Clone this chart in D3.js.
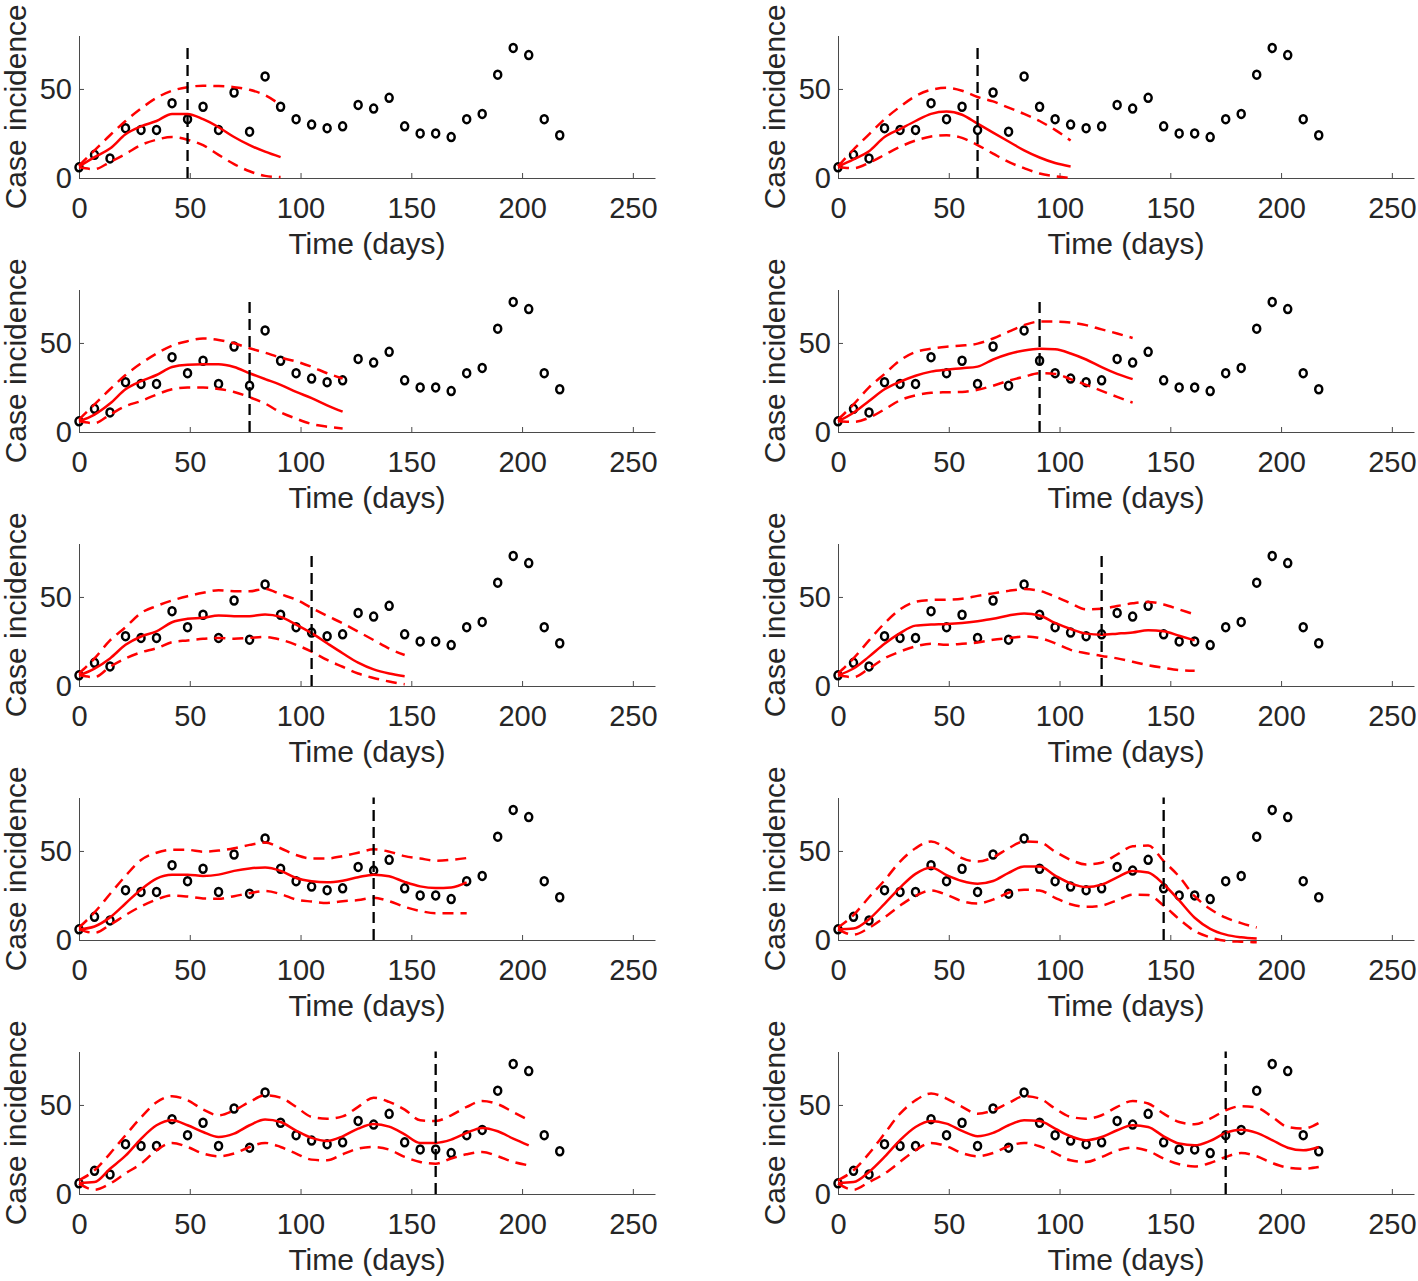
<!DOCTYPE html>
<html><head><meta charset="utf-8">
<script src="https://cdn.jsdelivr.net/npm/d3@7"></script>
<style>body{margin:0;background:#fff} svg{display:block}</style>
</head><body><svg id="c" width="1418" height="1281"></svg>
<script>
// weekly observation days and case incidence
const days = d3.range(0, 218, 7);
const cases = [6,13,11,28,27,27,42,33,40,27,48,26,57,40,33,30,28,29,41,39,45,29,25,25,23,33,36,58,73,69,33,24];
// cutoff (vertical dashed line) of each panel
const cutoffs = [49,63,77,91,105,119,133,147,161,175];
const vlineTop = [75,75,75,75,75,75,80,80,80,80];
const xTicks = [0,50,100,150,200,250];
const yTicks = [0,50];

// fitted mean and bounds, weekly from day 0
const fitMean1 = [6.4,11.7,16.5,24.5,29,32,36,36,33,28.5,23,18.4,14.8,11.7];
const fitUpper1 = [7,15.5,24,32,39,45,49,51,51.8,51.6,51,49.5,46.5,41];
const fitLower1 = [6,5,9,13.5,18.5,21.5,23,21.5,18.4,13,7.8,3.8,1.2,0.5];

const fitMean2 = [6.5,10.5,15,23,27.5,32,36,37.3,35.5,30.5,25.5,20.5,15.5,11.5,8.4,6.5];
const fitUpper2 = [6.5,16,24.5,33,40,46,49.5,50.6,49,45.5,43,39.5,36,32,27,21];
const fitLower2 = [6,5.5,8.5,13,17.5,21,23.3,24,22.5,18.5,13.7,9,5.5,2.5,1,0];

const fitMean3 = [6,9.8,16,24,28.5,32,36.5,37.8,38,38,36.5,33,29.7,26.5,22.5,19,15,11.4];
const fitUpper3 = [7,15.5,24,32,38.5,44,48.5,51,52.5,51.7,49.8,47,44.5,41.7,39.6,36.6,33,30];
const fitLower3 = [6,5,9.8,14.5,17.4,21,24,25,25,24.2,22.5,19.5,16,11,7.5,4.5,3,2];

const fitMean4 = [6,10.8,17.4,24,28.2,31.6,33.9,35,35.8,36.7,40.7,43.8,45.8,46.8,46.4,44.1,40.7,36.4,32.6,29.7];
const fitUpper4 = [7,15.5,25,32.6,40.2,44.9,46.8,47.9,48.5,49.6,52.5,56.3,60,62,62,61.4,60,57.6,55.3,52.8];
const fitLower4 = [6,5.7,8,12.7,17.8,20.6,22,22.3,22.5,23.7,26,28.8,31,33,32.6,29.7,26.5,23.1,19.7,16.5];

const fitMean5 = [6,9.8,15.5,23.1,27.8,30.7,35.8,37.7,38.3,39.6,39.2,39.2,40.2,38.8,34.5,29.7,24,18.4,13.1,9.3,7,5.5];
const fitUpper5 = [7,15.5,25.6,33,41,44.9,48,50.4,52.3,53.8,53.2,53.2,54.5,51.5,48.5,43.8,39.4,35.2,30.5,25.8,21,17.4];
const fitLower5 = [6,5,10.8,15.5,18.9,21.2,24.6,25.6,26.5,27,26.5,27,27.5,26,23.1,19.3,14.6,10.8,7,4.5,2.5,1];

const fitMean6 = [6,9.8,16.5,23.7,29.7,33.9,34.5,34.8,35.4,36.4,37.7,39.6,40.7,39.6,35.4,32,29.4,28.8,29.4,30.1,31.3,30.7,28.2,25.6];
const fitUpper6 = [7,15.5,25.6,35.2,43,47.3,48.3,48.5,49,50.6,52,53.4,54.4,53.4,50.2,46.4,43,43.4,44.9,46.4,47.2,45.8,43,40.2];
const fitLower6 = [6,5,9.8,15.5,19.3,22.2,23.7,23.1,23.7,24.4,26,26.9,27.8,26.9,24,20.3,18.4,16.9,15.5,13.6,11.7,10.2,8.9,8.5];

const fitMean7 = [6,7.6,12.7,20.5,28.4,34.5,36.6,36.6,36,36.7,38.8,40.2,40.7,38.8,34.8,33,32.4,33.3,35.2,36.7,35.8,32.6,30.1,29.2,29.5,32.3];
const fitUpper7 = [7,15.5,25.8,36,44.9,49,50.6,50.6,49.6,50.2,51.5,53.4,54.7,51.5,47.7,45.8,45.8,47.1,49,50.9,49.6,47.1,45.8,44.5,45,46];
const fitLower7 = [6,4,8.5,14,18.9,22.7,25,24.4,23.3,23.1,24.6,26.3,27.5,25.8,22.7,21.6,20.8,21.8,22.4,23.7,21.8,18.6,16.3,15,15,15];

const fitMean8 = [6,6.4,11.7,20.3,29.4,37.1,40.7,36.4,33.1,31.6,33.1,37.7,41.3,41.3,36.2,31.8,29.7,31.1,35.2,38.8,37.9,31.3,22.2,12.5,6.3,3,1.5,0.8];
const fitUpper8 = [7,14,24,33.5,44,51.5,55.3,51.5,46,44,46.4,51.5,55.3,54.9,49.6,45,42.4,43.4,48,52.6,53,44.3,35.6,24.6,17.4,12.5,9.5,7];
const fitLower8 = [6,3,6.8,12.7,19.3,24.8,27.8,25.4,21.8,20.5,22.7,26.5,28.2,27.8,23.7,20.1,18.6,19.3,22.3,25.4,25.2,19.3,11.7,5,1.5,-0.5,-1,-1.3];

const fitMean9 = [6.2,6.7,14.2,21.5,31,38.6,41.4,38.6,34.8,32,33.9,38.6,41.8,40.4,35.6,31.5,29.8,32.4,36.7,39.3,37.8,33.5,28.7,28.7,30.5,34.3,37.1,35.2,31.1,27.3];
const fitUpper9 = [7.7,13.3,22.7,33,43,51.5,54.9,52.6,47.4,44.2,47,51.7,55.4,54.1,48.9,43.3,42.3,43.6,48.9,54.1,51.7,47.4,41.4,41,44.2,48.9,52.2,50.4,46,41.4];
const fitLower9 = [5.8,2.4,5.8,11.6,17,24.5,28.7,26.4,22.7,21.2,22.7,26.4,28.7,26.4,22.7,19.3,18.9,22.3,25.5,26.4,24.9,20.8,18,17,19.9,22.3,23.6,21.2,18,16.1];

const fitMean10 = [6.2,6.7,12.4,20.8,30.2,37.6,41,39.5,35.4,32.4,34.3,38.6,41.4,41,36.7,32.4,30.2,32,35.8,38.6,37.6,32.4,28.3,27.3,29.8,34.3,36.1,34.3,30.2,26,24.5,26.4];
const fitUpper10 = [7.7,13.3,22.7,33.9,45.1,52.6,56.4,53.6,48.9,45.1,47,51.1,54.9,53.6,48,43.3,42.3,44.2,48.9,52.2,50.8,45.1,40.4,39.1,42.3,47,49.3,48.5,43.3,37.6,36.7,39.9];
const fitLower10 = [5.8,2.4,6.7,11.4,18,24.5,28.7,26.8,23,21.2,23,26.8,28.7,26.8,23,18.9,18,20.8,24.5,26,24.2,19.9,16.7,15.5,17.4,20.8,23,21.2,17.4,14.8,14.2,15.1];

const means = [fitMean1,fitMean2,fitMean3,fitMean4,fitMean5,fitMean6,fitMean7,fitMean8,fitMean9,fitMean10];
const uppers = [fitUpper1,fitUpper2,fitUpper3,fitUpper4,fitUpper5,fitUpper6,fitUpper7,fitUpper8,fitUpper9,fitUpper10];
const lowers = [fitLower1,fitLower2,fitLower3,fitLower4,fitLower5,fitLower6,fitLower7,fitLower8,fitLower9,fitLower10];

const svg = d3.select('#c');
const FONT = '"Liberation Sans", Arial, Helvetica, sans-serif';
const TXT = '#262626';
const colX = [79, 838], plotW = 576, plotH = 142.5;
const rowBottom = r => 178 + 254 * r;

cutoffs.forEach((cut, i) => {
  const col = i % 2, row = Math.floor(i / 2);
  const x = d3.scaleLinear().domain([0, 260]).range([colX[col], colX[col] + plotW]);
  const y = d3.scaleLinear().domain([0, 80]).range([rowBottom(row), rowBottom(row) - plotH]);
  const g = svg.append('g');

  const gx = g.append('g').attr('transform', `translate(0,${rowBottom(row)})`)
    .call(d3.axisBottom(x).tickValues(xTicks).tickSizeInner(-5).tickSizeOuter(0).tickPadding(19.5));
  const gy = g.append('g').attr('transform', `translate(${colX[col]},0)`)
    .call(d3.axisLeft(y).tickValues(yTicks).tickSizeInner(-5).tickSizeOuter(0).tickPadding(7));
  [gx, gy].forEach(a => {
    a.selectAll('path.domain').attr('stroke', '#4a4a4a').attr('stroke-width', 1);
    a.selectAll('.tick line').attr('stroke', '#4a4a4a').attr('stroke-width', 1);
    a.selectAll('text').attr('font-family', FONT).attr('font-size', 29).attr('fill', TXT);
  });

  g.append('text').attr('x', colX[col] + plotW / 2).attr('y', rowBottom(row) + 76)
    .attr('text-anchor', 'middle').attr('font-family', FONT).attr('font-size', 30).attr('fill', TXT)
    .text('Time (days)');
  g.append('text')
    .attr('transform', `translate(${colX[col] - 53},${rowBottom(row) - plotH / 2}) rotate(-90)`)
    .attr('text-anchor', 'middle').attr('font-family', FONT).attr('font-size', 30).attr('fill', TXT)
    .text('Case incidence');

  // data points
  g.append('g').selectAll('ellipse').data(cases).join('ellipse')
    .attr('cx', (d, j) => x(days[j])).attr('cy', d => y(d)).attr('rx', 3.5).attr('ry', 4)
    .attr('fill', 'none').attr('stroke', '#000').attr('stroke-width', 2.5);

  const line = d3.line().x((d, j) => x(days[j])).y(d => y(d)).curve(d3.curveMonotoneX);
  g.append('path').attr('d', line(uppers[i])).attr('fill', 'none').attr('stroke', '#ff0000')
    .attr('stroke-width', 2.5).attr('stroke-dasharray', '11,7');
  g.append('path').attr('d', line(lowers[i])).attr('fill', 'none').attr('stroke', '#ff0000')
    .attr('stroke-width', 2.5).attr('stroke-dasharray', '11,7');
  g.append('path').attr('d', line(means[i])).attr('fill', 'none').attr('stroke', '#ff0000')
    .attr('stroke-width', 2.5);

  // cutoff line
  g.append('line').attr('x1', x(cut)).attr('x2', x(cut)).attr('y1', y(0)).attr('y2', y(vlineTop[i]))
    .attr('stroke', '#000').attr('stroke-width', 2.3).attr('stroke-dasharray', '11,6');
});
</script></body></html>
